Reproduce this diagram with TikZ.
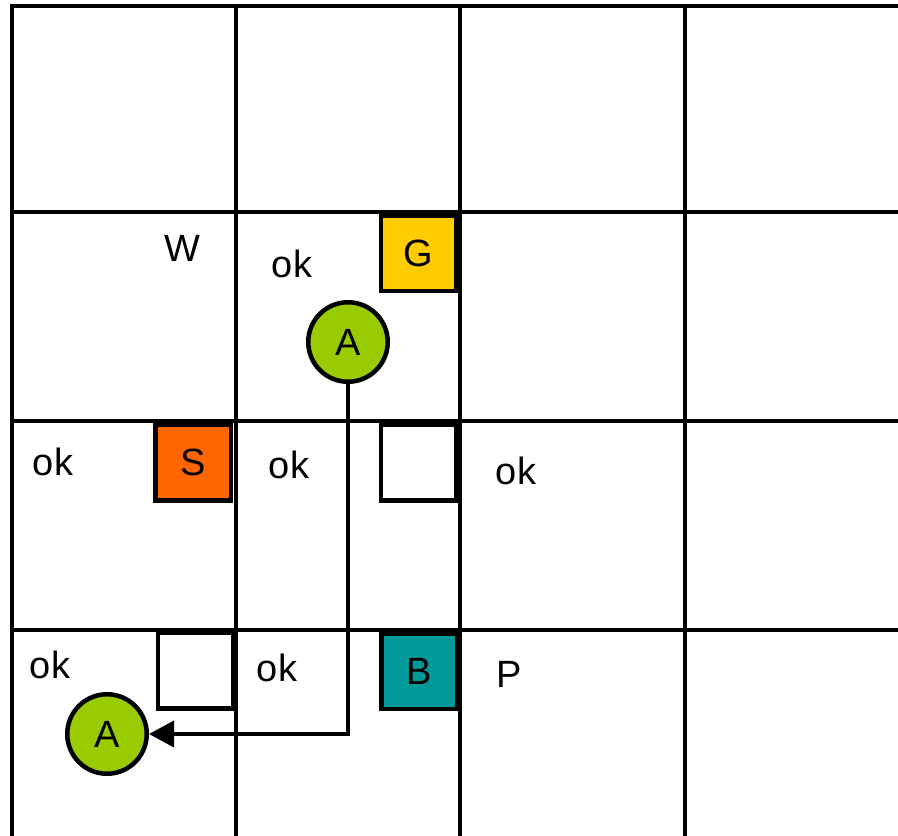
\documentclass[tikz,border=0pt]{standalone}
\usepackage{fontspec}
\setmainfont{Liberation Sans}
\usetikzlibrary{arrows.meta}
\definecolor{gold}{HTML}{FFCC00}
\definecolor{orng}{HTML}{FF6600}
\definecolor{teal2}{HTML}{009999}
\definecolor{lime}{HTML}{99CC00}
\tikzset{
  gridline/.style={line width=4.5pt, black},
  cellbox/.style={draw, line width=4.5pt, minimum size=75.5pt, inner sep=0pt, font=\fontsize{38}{44}\selectfont},
  agent/.style={circle, draw, line width=4.5pt, fill=lime, minimum size=79.5pt, inner sep=0pt, font=\fontsize{38}{44}\selectfont},
  lbl/.style={inner sep=0pt, font=\fontsize{38}{44}\selectfont},
  path/.style={line width=4pt, -{Triangle[length=25pt, width=26pt]}}
}
\begin{document}
\begin{tikzpicture}[x=1pt, y=-1pt]
\useasboundingbox (0,0) rectangle (898,836);
\clip (0,0) rectangle (898,836);
\fill[white] (0,0) rectangle (898,836);
% grid
\foreach \x in {12,236,460,685} \draw[gridline] (\x,6) -- (\x,845);
\foreach \y in {6,212,421,630} \draw[gridline] (10,\y) -- (905,\y);
% boxes
\node[cellbox, fill=gold] (G) at (418.5,253) {G};
\node[cellbox, fill=orng] (S) at (193,462.5) {S};
\node[cellbox, fill=white] (E1) at (418.5,462.5) {};
\node[cellbox, fill=white] (E2) at (195.5,670.5) {};
\node[cellbox, fill=teal2] (B) at (419,671) {B};
% agents
\node[agent] (A1) at (348,342) {A};
\node[agent] (A2) at (107,734) {A};
% labels
\node[lbl] (w) at (182,248) {W};
\node[lbl] (ok1) at (292,264) {ok};
\node[lbl] (ok2) at (53,462) {ok};
\node[lbl] (ok3) at (289,465) {ok};
\node[lbl] (ok4) at (516,471) {ok};
\node[lbl] (ok5) at (50,665) {ok};
\node[lbl] (ok6) at (277,668) {ok};
\node[lbl] (p) at (509,674) {P};
% path
\draw[path] (A1.south) |- (A2.east);
\end{tikzpicture}
\end{document}
